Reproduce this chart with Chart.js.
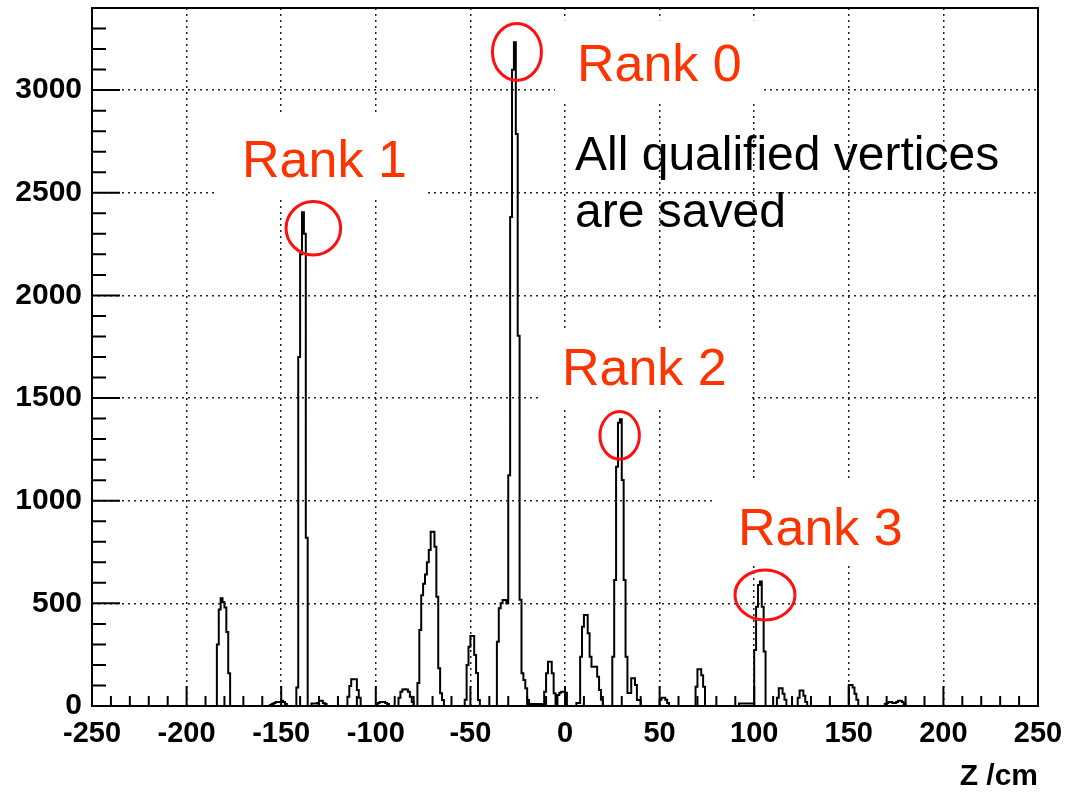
<!DOCTYPE html>
<html>
<head>
<meta charset="utf-8">
<script src="https://cdn.jsdelivr.net/npm/chart.js@4.4.0/dist/chart.umd.min.js"></script>
<style>
  html, body { margin: 0; padding: 0; background: #fff; }
</style>
</head>
<body>
<canvas id="vertexChart" width="1080" height="792"></canvas>
<script>
// histogram range, 1 cm bins
const zMin = -250;
const zMax = 250;
const binWidth = 1;

// each cluster: lower edge of its first bin, then the bin contents (all other bins are empty)
const clusterStart = [-184, -156, -142, -134, -115, -99, -88, -78, -53, -36, -11, -4, 6, 25, 50, 69, 92, 100, 112, 123, 150, 169];
const clusterCounts = [
    [300, 470, 525, 505, 480, 360, 160],
    [5, 10, 15, 20, 20, 20, 25, 20, 10],
    [90, 1700, 2200, 2405, 2300, 820],
    [12, 12, 12, 15, 25, 25, 15, 10],
    [45, 97, 130, 130, 130, 78, 40],
    [15, 20, 20, 20, 15, 10],
    [40, 70, 80, 82, 80, 70, 45, 20],
    [112, 370, 540, 595, 640, 700, 760, 849, 849, 776, 532, 184, 62, 29],
    [30, 200, 289, 341, 341, 248, 161, 29],
    [313, 476, 500, 516, 516, 500, 1124, 2382, 3099, 3233, 2786, 1804, 518, 159, 127, 86, 29, 10, 10, 10, 10, 10, 10, 10, 10],
    [70, 159, 216, 216, 159, 62, 10],
    [54, 65, 70, 70, 65],
    [15, 15, 240, 386, 443, 443, 354, 240, 191, 191, 191, 143, 78, 30],
    [240, 614, 1166, 1380, 1397, 1101, 614, 240, 63, 63, 135, 135, 102, 29, 29],
    [30, 40, 40, 30, 15],
    [94, 179, 179, 150, 94],
    [12, 12, 12, 12, 12, 12, 12, 12],
    [273, 484, 589, 606, 484, 265],
    [40, 86, 86, 60, 30],
    [40, 75, 75, 50, 20],
    [102, 102, 90, 60, 30],
    [10, 15, 20, 20, 15, 15, 20, 25, 25, 20, 10],
];

const xTickValues = [-250, -200, -150, -100, -50, 0, 50, 100, 150, 200, 250];
const yTickValues = [0, 500, 1000, 1500, 2000, 2500, 3000];
const yMax = 3400;
const xTitle = 'Z /cm';

const rankNames = ['Rank 0', 'Rank 1', 'Rank 2', 'Rank 3'];
const noteLines = ['All qualified vertices', 'are saved'];

// fill the full histogram from the clusters
const counts = new Array((zMax - zMin) / binWidth).fill(0);
clusterStart.forEach((start, i) => {
    clusterCounts[i].forEach((c, j) => {
        counts[(start - zMin) / binWidth + j] = c;
    });
});
const histPoints = counts.map((c, i) => ({ x: zMin + i * binWidth, y: c }));
histPoints.push({ x: zMax, y: 0 });

const FONT = "'Liberation Sans', Arial, Helvetica, sans-serif";

// where the labels sit (data coordinates), boxes hide the grid behind them
const rankBoxes = [
    { x0: -5.3, x1: 105, y0: 3340, y1: 2942, tx: 6.3, ty: 3044, cx: -25.4, cy: 3186, rx: 24.5, ry: 28.5 },
    { x0: -183.4, x1: -72.4, y0: 2879, y1: 2465, tx: -170.7, ty: 2577, cx: -133, cy: 2327, rx: 27.3, ry: 26.7 },
    { x0: -14.3, x1: 96.7, y0: 1831, y1: 1456, tx: -1.6, ty: 1564, cx: 28.9, cy: 1318, rx: 19.7, ry: 23.8 },
    { x0: 79.3, x1: 198.2, y0: 1101, y1: 687, tx: 91.4, ty: 784, cx: 105.7, cy: 541, rx: 30, ry: 25 },
];

const annotations = {
    id: 'annotations',
    beforeDatasetsDraw(chart) {
        const { ctx, scales: { x, y } } = chart;
        ctx.save();
        ctx.fillStyle = '#fff';
        rankBoxes.forEach(b => {
            const l = x.getPixelForValue(b.x0), r = x.getPixelForValue(b.x1);
            const t = y.getPixelForValue(b.y0), bt = y.getPixelForValue(b.y1);
            ctx.fillRect(l, t, r - l, bt - t);
        });
        ctx.restore();
    },
    afterDatasetsDraw(chart) {
        const { ctx, scales: { x, y } } = chart;
        ctx.save();
        ctx.textBaseline = 'alphabetic';
        ctx.textAlign = 'left';
        ctx.font = '52px ' + FONT;
        ctx.fillStyle = '#ff3300';
        rankBoxes.forEach((b, i) => {
            ctx.fillText(rankNames[i], x.getPixelForValue(b.tx), y.getPixelForValue(b.ty));
        });
        ctx.strokeStyle = '#ff1010';
        ctx.lineWidth = 3;
        rankBoxes.forEach(b => {
            ctx.beginPath();
            ctx.ellipse(x.getPixelForValue(b.cx), y.getPixelForValue(b.cy), b.rx, b.ry, 0, 0, Math.PI * 2);
            ctx.stroke();
        });
        ctx.fillStyle = '#000';
        ctx.font = '48px ' + FONT;
        ctx.fillText(noteLines[0], x.getPixelForValue(5.3), y.getPixelForValue(2611));
        ctx.fillText(noteLines[1], x.getPixelForValue(5.3), y.getPixelForValue(2333));
        ctx.restore();
    }
};

// ROOT style frame with inward ticks
const frameTicks = {
    id: 'frameTicks',
    afterDraw(chart) {
        const { ctx, chartArea: a, scales: { x, y } } = chart;
        ctx.save();
        ctx.strokeStyle = '#000';
        ctx.lineWidth = 2;
        ctx.beginPath();
        for (let v = zMin; v <= zMax; v += 10) {
            const px = x.getPixelForValue(v);
            const len = v % 50 === 0 ? 20 : 10;
            ctx.moveTo(px, a.bottom);
            ctx.lineTo(px, a.bottom - len);
        }
        for (let v = 0; v < yMax; v += 100) {
            const py = y.getPixelForValue(v);
            const len = v % 500 === 0 ? 28 : 14;
            ctx.moveTo(a.left, py);
            ctx.lineTo(a.left + len, py);
        }
        ctx.stroke();
        ctx.strokeRect(a.left, a.top, a.right - a.left, a.bottom - a.top);
        ctx.restore();
    }
};

new Chart(document.getElementById('vertexChart'), {
    type: 'line',
    data: {
        datasets: [{
            data: histPoints,
            borderColor: '#000',
            borderWidth: 2,
            pointRadius: 0,
            fill: false,
            stepped: true,
            tension: 0,
        }],
    },
    options: {
        responsive: false,
        animation: false,
        devicePixelRatio: 1,
        layout: { padding: { top: 8, right: 42, left: 0, bottom: 0 } },
        plugins: {
            legend: { display: false },
            tooltip: { enabled: false },
        },
        scales: {
            x: {
                type: 'linear',
                min: zMin,
                max: zMax,
                afterBuildTicks: s => { s.ticks = xTickValues.map(v => ({ value: v })); },
                afterFit: s => { s.height = 86; s.paddingLeft = 0; s.paddingRight = 0; },
                grid: { color: '#222', lineWidth: 1.5, drawTicks: false },
                border: { display: false, dash: [2, 4] },
                ticks: {
                    autoSkip: false,
                    maxRotation: 0,
                    padding: 11,
                    color: '#000',
                    callback: v => String(v),
                    font: { family: FONT, size: 29, weight: 'bold', lineHeight: 1.2 },
                },
                title: {
                    display: true,
                    text: xTitle,
                    align: 'end',
                    color: '#000',
                    padding: { top: 0, bottom: 0 },
                    font: { family: FONT, size: 30, weight: 'bold', lineHeight: 1 },
                },
            },
            y: {
                min: 0,
                max: yMax,
                afterBuildTicks: s => { s.ticks = yTickValues.map(v => ({ value: v })); },
                afterFit: s => { s.width = 92; s.paddingTop = 0; s.paddingBottom = 0; },
                grid: { color: '#222', lineWidth: 1.5, drawTicks: false },
                border: { display: false, dash: [2, 4] },
                ticks: {
                    padding: 10,
                    color: '#000',
                    callback: v => String(v),
                    font: { family: FONT, size: 30, weight: 'bold' },
                },
            },
        },
    },
    plugins: [annotations, frameTicks],
});
</script>
</body>
</html>
